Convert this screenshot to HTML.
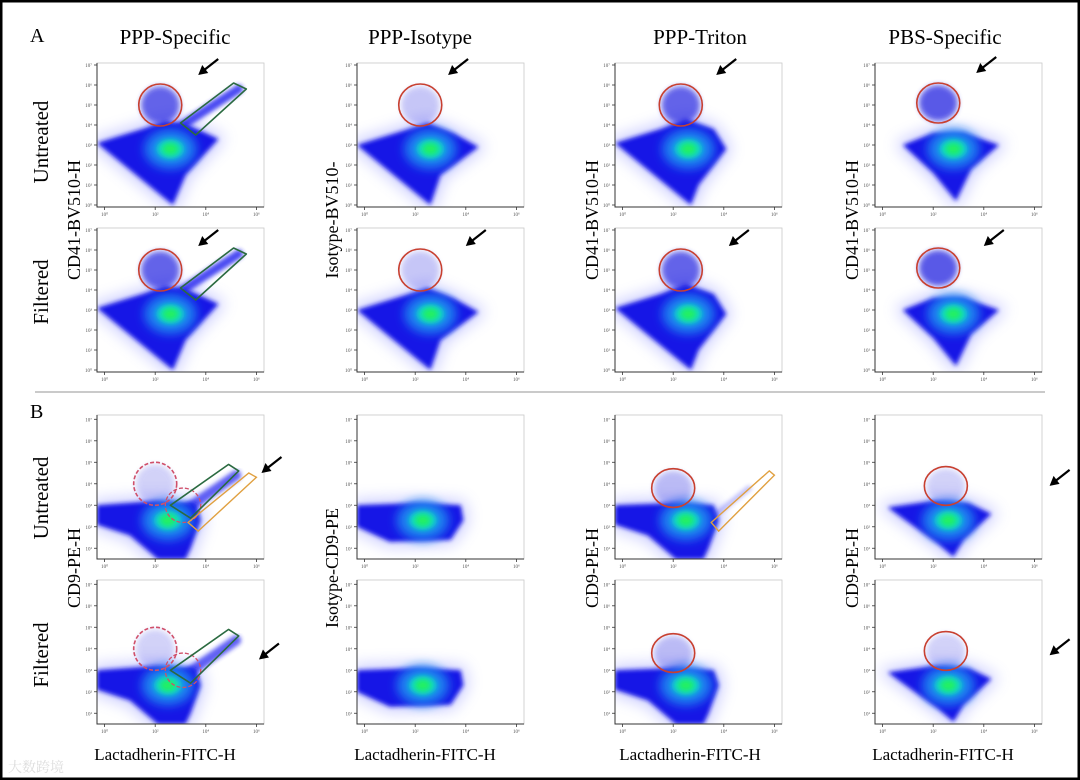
<!DOCTYPE html>
<html><head><meta charset="utf-8">
<style>
html,body{margin:0;padding:0;background:#fff;}
#wrap{position:relative;width:1080px;height:780px;overflow:hidden;}
svg{display:block;}
text{font-family:"Liberation Serif","Noto Serif CJK SC",serif;}
</style></head>
<body>
<div id="wrap">
<svg id="fig" width="1080" height="780" viewBox="0 0 1080 780">
<defs>
<filter id="blurA" x="-20%" y="-20%" width="140%" height="140%"><feGaussianBlur stdDeviation="2.2"/></filter>
<filter id="blurB" x="-30%" y="-30%" width="160%" height="160%"><feGaussianBlur stdDeviation="5"/></filter>
<filter id="blurC" x="-50%" y="-50%" width="200%" height="200%"><feGaussianBlur stdDeviation="3"/></filter>
<filter id="blurD" x="-50%" y="-50%" width="200%" height="200%"><feGaussianBlur stdDeviation="8"/></filter>
</defs>
<rect x="1" y="1" width="1078" height="778" fill="#fff" stroke="#000" stroke-width="3"/>
<line x1="35" y1="392" x2="1045" y2="392" stroke="#aaa" stroke-width="1.2"/>
<text x="30" y="42" font-size="20">A</text>
<text x="30" y="418" font-size="20">B</text>
<text x="175" y="44" font-size="21" text-anchor="middle">PPP-Specific</text>
<text x="420" y="44" font-size="21" text-anchor="middle">PPP-Isotype</text>
<text x="700" y="44" font-size="21" text-anchor="middle">PPP-Triton</text>
<text x="945" y="44" font-size="21" text-anchor="middle">PBS-Specific</text>
<text transform="translate(48,142) rotate(-90)" font-size="21" text-anchor="middle">Untreated</text>
<text transform="translate(48,292) rotate(-90)" font-size="21" text-anchor="middle">Filtered</text>
<text transform="translate(48,498) rotate(-90)" font-size="21" text-anchor="middle">Untreated</text>
<text transform="translate(48,655) rotate(-90)" font-size="21" text-anchor="middle">Filtered</text>
<text transform="translate(80,220) rotate(-90)" font-size="18" text-anchor="middle">CD41-BV510-H</text>
<text transform="translate(338,220) rotate(-90)" font-size="18" text-anchor="middle">Isotype-BV510-</text>
<text transform="translate(598,220) rotate(-90)" font-size="18" text-anchor="middle">CD41-BV510-H</text>
<text transform="translate(858,220) rotate(-90)" font-size="18" text-anchor="middle">CD41-BV510-H</text>
<text transform="translate(80,568) rotate(-90)" font-size="18" text-anchor="middle">CD9-PE-H</text>
<text transform="translate(338,568) rotate(-90)" font-size="18" text-anchor="middle">Isotype-CD9-PE</text>
<text transform="translate(598,568) rotate(-90)" font-size="18" text-anchor="middle">CD9-PE-H</text>
<text transform="translate(858,568) rotate(-90)" font-size="18" text-anchor="middle">CD9-PE-H</text>
<text x="165" y="760" font-size="17" text-anchor="middle">Lactadherin-FITC-H</text>
<text x="425" y="760" font-size="17" text-anchor="middle">Lactadherin-FITC-H</text>
<text x="690" y="760" font-size="17" text-anchor="middle">Lactadherin-FITC-H</text>
<text x="943" y="760" font-size="17" text-anchor="middle">Lactadherin-FITC-H</text>
<text x="8" y="772" font-size="14" fill="#ddd">大数跨境</text>
<g id="panels"></g>
</svg>
</div>
<script>
// panel layout (columns x, rows y)
const colX = [97, 357, 615, 875];
const rowY = [63, 228, 415, 580];
const panelW = 167, panelH = 144;
// axis domains in log decades
const xDomain = [-0.3, 6.3];
const yDomainTop = [-0.1, 7.1];
const yDomainBottom = [0.5, 7.2];
const xTickLabels = ['10⁰','10²','10⁴','10⁶'];
const xTickDecades = [0, 2, 4, 6];
const yTickDecades = [0,1,2,3,4,5,6,7];

// main population outlines per column (decade coords) - section A
const cloudA = [
  [[-0.3,3.1],[1.5,3.8],[2.4,4.2],[3.3,4.0],[4.5,3.3],[3.2,1.5],[2.7,0.0]],
  [[-0.3,3.0],[1.5,3.7],[2.5,4.1],[3.5,3.6],[4.5,2.9],[3.0,1.5],[2.6,0.0]],
  [[-0.3,3.1],[1.5,3.8],[2.5,4.3],[3.6,3.8],[4.1,2.8],[3.0,1.0],[2.7,0.0]],
  [[0.8,3.0],[2.0,3.6],[3.2,3.6],[4.6,3.0],[3.5,1.8],[2.9,0.2],[2.0,1.6]]
];
// section B
const cloudB = [
  [[-0.3,3.0],[2.0,3.2],[3.6,3.1],[3.8,2.3],[3.4,1.0],[3.2,0.5],[2.1,0.5],[1.0,1.6],[-0.3,2.1]],
  [[-0.3,3.0],[2.0,3.1],[3.8,3.0],[3.9,2.3],[3.4,1.4],[1.0,1.3],[-0.3,2.0]],
  [[-0.3,3.0],[2.0,3.1],[3.6,3.0],[3.8,2.3],[3.4,1.0],[3.2,0.5],[2.1,0.5],[1.0,1.6],[-0.3,2.1]],
  [[0.2,2.9],[2.0,3.2],[3.4,3.1],[4.3,2.6],[3.2,1.4],[2.8,0.6],[2.2,1.2]]
];
// density core centres (x, y decades)
const coreA = [[2.6,2.8],[2.6,2.8],[2.6,2.8],[2.8,2.8]];
const coreB = [[2.5,2.3],[2.3,2.3],[2.5,2.3],[2.6,2.3]];
// red circle gates [x, y, rx, ry, density]
const gateA = [[2.2,5.0,0.85,1.05,0.7],[2.2,5.0,0.85,1.05,0.25],[2.3,5.0,0.85,1.05,0.7],[2.2,5.1,0.85,1.0,0.75]];
const gateB = [[2.0,4.0,0.85,1.0,0.2],[0,0,0,0,0],[2.0,3.8,0.85,0.9,0.3],[2.5,3.9,0.85,0.9,0.2]];
// diagonal streak + green gates (col1)
const streakA = [[2.6,3.6],[5.3,5.8]];
const greenGateA = [[3.0,4.1],[5.1,6.1],[5.6,5.8],[3.6,3.5]];
const streakB = [[3.2,2.8],[5.2,4.4]];
const greenGateB = [[2.6,3.0],[4.9,4.9],[5.3,4.6],[3.4,2.4]];
const orangeGateB = [[3.3,2.2],[5.7,4.5],[6.0,4.3],[3.7,1.8]];
const orangeGateC3 = [[3.5,2.2],[5.8,4.6],[6.0,4.4],[3.8,1.8]];
// arrows [tipX, tipY] decades per panel (row-major), null = none
const arrowTips = [
  [3.7,6.5],[3.3,6.5],[3.7,6.5],[3.7,6.6],
  [3.7,6.2],[4.0,6.2],[4.2,6.2],[4.0,6.2],
  [6.2,4.5],null,null,[6.6,3.9],
  [6.1,3.5],null,null,[6.6,3.7]
];

const NS = 'http://www.w3.org/2000/svg';
const root = document.getElementById('panels');
function mk(tag, attrs, parent){ const e=document.createElementNS(NS,tag); for(const k in attrs) e.setAttribute(k,attrs[k]); (parent||root).appendChild(e); return e; }

for(let r=0;r<4;r++){
  for(let c=0;c<4;c++){
    const x0=colX[c], y0=rowY[r], top=r<2;
    const yd = top? yDomainTop : yDomainBottom;
    const sx = d => x0 + (d-xDomain[0])/(xDomain[1]-xDomain[0])*panelW;
    const sy = d => y0 + panelH - (d-yd[0])/(yd[1]-yd[0])*panelH;
    const pts = arr => arr.map(p=>sx(p[0]).toFixed(1)+','+sy(p[1]).toFixed(1)).join(' ');
    const idx=r*4+c;
    const g = mk('g',{});
    
    
    const cid='clip'+idx;
    const cp = mk('clipPath',{id:cid},g); mk('rect',{x:x0,y:y0,width:panelW,height:panelH},cp);
    mk('rect',{x:x0,y:y0,width:panelW,height:panelH,fill:'#fff',stroke:'#c8c8c8','stroke-width':0.8},g);
    const pg = mk('g',{'clip-path':'url(#'+cid+')'},g);
    const cloud = top? cloudA[c] : cloudB[c];
    const core = top? coreA[c] : coreB[c];
    const gate = top? gateA[c] : gateB[c];
    // halo speckle
    const halo = mk('polygon',{points:pts(cloud),fill:'#6a70ff',opacity:0.4,filter:'url(#blurD)',stroke:'#6a70ff','stroke-width':8},pg);
    
    
    // streak
    if(c===0){
      const s = top? streakA : streakB;
      const st = mk('line',{x1:sx(s[0][0]),y1:sy(s[0][1]),x2:sx(s[1][0]),y2:sy(s[1][1]),stroke:'#2a2af0','stroke-width':top?9:10,'stroke-linecap':'round',opacity:top?0.85:0.75,filter:'url(#blurA)'},pg);
      
      
    }
    if(c===2 && r===2){
      const st = mk('line',{x1:sx(3.6),y1:sy(2.5),x2:sx(5.0),y2:sy(3.8),stroke:'#4040f0','stroke-width':5,'stroke-linecap':'round',opacity:0.35,filter:'url(#blurA)'},pg);
      
      
    }
    const body = mk('polygon',{points:pts(cloud),fill:'#1414e6',filter:'url(#blurA)'},pg);
    
    
    const cy1 = mk('ellipse',{cx:sx(core[0]),cy:sy(core[1]),rx:26,ry:20,fill:'#1a80f0',filter:'url(#blurB)'},pg);
    
    
    const cy2 = mk('ellipse',{cx:sx(core[0]),cy:sy(core[1]),rx:14,ry:10,fill:'#10d8c8',filter:'url(#blurC)'},pg);
    
    
    const cy3 = mk('ellipse',{cx:sx(core[0]),cy:sy(core[1]),rx:8,ry:6,fill:'#20f060',filter:'url(#blurC)'},pg);
    
    
    // gate cluster + circle
    if(gate[2]>0){
      if(gate[4]>0){
        const cl = mk('ellipse',{cx:sx(gate[0]),cy:sy(gate[1]),rx:(sx(gate[2])-sx(0))*0.9,ry:(sy(0)-sy(gate[3]))*0.9,fill:'#2020e0',opacity:gate[4],filter:'url(#blurC)'},pg);
        
        
      }
      const gc = mk('ellipse',{cx:sx(gate[0]),cy:sy(gate[1]),rx:sx(gate[2])-sx(0),ry:sy(0)-sy(gate[3]),fill:'none',stroke: (!top&&c===0)?'#d0506a':'#c84030','stroke-width':1.6,'stroke-dasharray':(!top&&c===0)?'4,2':'none'},pg);
      
      
      if(!top&&c===0){
        const gc2 = mk('ellipse',{cx:sx(3.1),cy:sy(3.0),rx:sx(0.7)-sx(0),ry:sy(0)-sy(0.8),fill:'none',stroke:'#d0506a','stroke-width':1.3,'stroke-dasharray':'4,2'},pg);
        
        
      }
    }
    if(c===0){
      const gg = mk('polygon',{points:pts(top?greenGateA:greenGateB),fill:'none',stroke:'#2a6a40','stroke-width':1.6,'stroke-linejoin':'round'},pg);
      
      
      if(r===2){
        const og = mk('polygon',{points:pts(orangeGateB),fill:'none',stroke:'#e0a040','stroke-width':1.4},pg);
        
        
      }
    }
    if(c===2 && r===2){
      const og = mk('polygon',{points:pts(orangeGateC3),fill:'none',stroke:'#e0a040','stroke-width':1.4},pg);
      
      
    }
    // axes
    const ax = mk('path',{d:'M'+x0+','+y0+' V'+(y0+panelH)+' H'+(x0+panelW),fill:'none',stroke:'#333','stroke-width':1},g);
    
    
    yTickDecades.forEach(d=>{
      const yy=sy(d); if(yy<y0-1||yy>y0+panelH+1) return;
      mk('line',{x1:x0-3,y1:yy,x2:x0,y2:yy,stroke:'#333','stroke-width':0.8},g);
      const t=mk('text',{x:x0-5,y:yy+2,'font-size':5,'text-anchor':'end',fill:'#555'},g);
      t.textContent='10'+'⁰¹²³⁴⁵⁶⁷'[d];
      
      
    });
    xTickDecades.forEach((d,i)=>{
      const xx=sx(d);
      mk('line',{x1:xx,y1:y0+panelH,x2:xx,y2:y0+panelH+3,stroke:'#333','stroke-width':0.8},g);
      const t=mk('text',{x:xx,y:y0+panelH+9,'font-size':5,'text-anchor':'middle',fill:'#555'},g);
      t.textContent=xTickLabels[i];
      
      
    });
    // arrow
    const a = arrowTips[idx];
    if(a){
      const tx=sx(a[0]), ty=sy(a[1]);
      const ex=tx+20, ey=ty-16;
      const ag = mk('g',{},g);
      
      
      mk('line',{x1:tx+6,y1:ty-5,x2:ex,y2:ey,stroke:'#000','stroke-width':2.2},ag);
      mk('polygon',{points:tx+','+ty+' '+(tx+4)+','+(ty-10)+' '+(tx+10)+','+(ty-2),fill:'#000'},ag);
    }
  }
}
</script>
</body></html>
